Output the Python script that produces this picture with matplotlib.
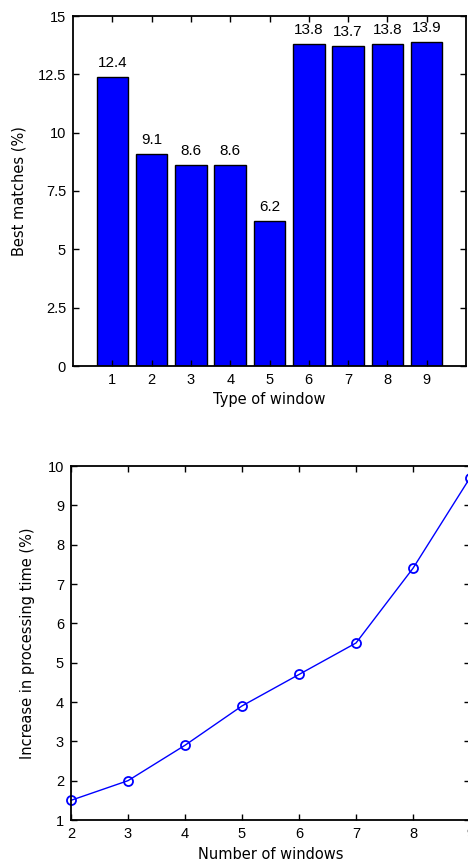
import matplotlib
matplotlib.use("Agg")
import matplotlib.pyplot as plt

# data
window_types = [1, 2, 3, 4, 5, 6, 7, 8, 9]
best_matches = [12.4, 9.1, 8.6, 8.6, 6.2, 13.8, 13.7, 13.8, 13.9]

num_windows = [2, 3, 4, 5, 6, 7, 8, 9]
time_increase = [1.5, 2.0, 2.9, 3.9, 4.7, 5.5, 7.4, 9.7]

plt.rcParams['font.family'] = ['Liberation Sans', 'DejaVu Sans']
plt.rcParams['font.size'] = 10

W, H = 468, 863
fig = plt.figure(figsize=(W / 100, H / 100), dpi=100)
label_font = dict(family=['DejaVu Sans'], fontsize=10.5)


def style_axes(ax):
    for s in ax.spines.values():
        s.set_linewidth(1.3)
    ax.tick_params(direction='in', length=4, width=1.0, top=True, right=True,
                   labelsize=10.5, pad=5)


# top: bar chart
ax1 = fig.add_axes([73 / W, 1 - 366 / H, (466 - 73) / W, 350 / H])
ax1.bar(window_types, best_matches, width=0.8, color='#0000ff',
        edgecolor='black', linewidth=1.0)
for x, v in zip(window_types, best_matches):
    ax1.text(x, v + 0.3, f"{v:.1f}", ha='center', va='bottom', fontsize=11)
ax1.set_xlim(0, 10)
ax1.set_ylim(0, 15)
ax1.set_xticks(window_types)
ax1.set_yticks([0, 2.5, 5, 7.5, 10, 12.5, 15])
ax1.set_yticklabels(['0', '2.5', '5', '7.5', '10', '12.5', '15'])
ax1.set_xlabel('Type of window', **label_font)
ax1.set_ylabel('Best matches (%)', **label_font)
ax1.xaxis.set_label_coords(0.5, -0.075)
ax1.yaxis.set_label_coords(-0.118, 0.5)
style_axes(ax1)

# bottom: line chart
ax2 = fig.add_axes([71 / W, 1 - 820 / H, (470 - 71) / W, 354 / H])
ax2.plot(num_windows, time_increase, color='#0000ff', linewidth=1.0,
         marker='o', markersize=6.5, markerfacecolor='none',
         markeredgecolor='#0000ff', markeredgewidth=1.3, clip_on=False)
ax2.set_xlim(2, 9)
ax2.set_ylim(1, 10)
ax2.set_xticks(num_windows)
ax2.set_yticks(range(1, 11))
ax2.set_xlabel('Number of windows', **label_font)
ax2.set_ylabel('Increase in processing time (%)', **label_font)
ax2.xaxis.set_label_coords(0.5, -0.075)
ax2.yaxis.set_label_coords(-0.09, 0.5)
style_axes(ax2)

fig.savefig('out.png', dpi=100)
